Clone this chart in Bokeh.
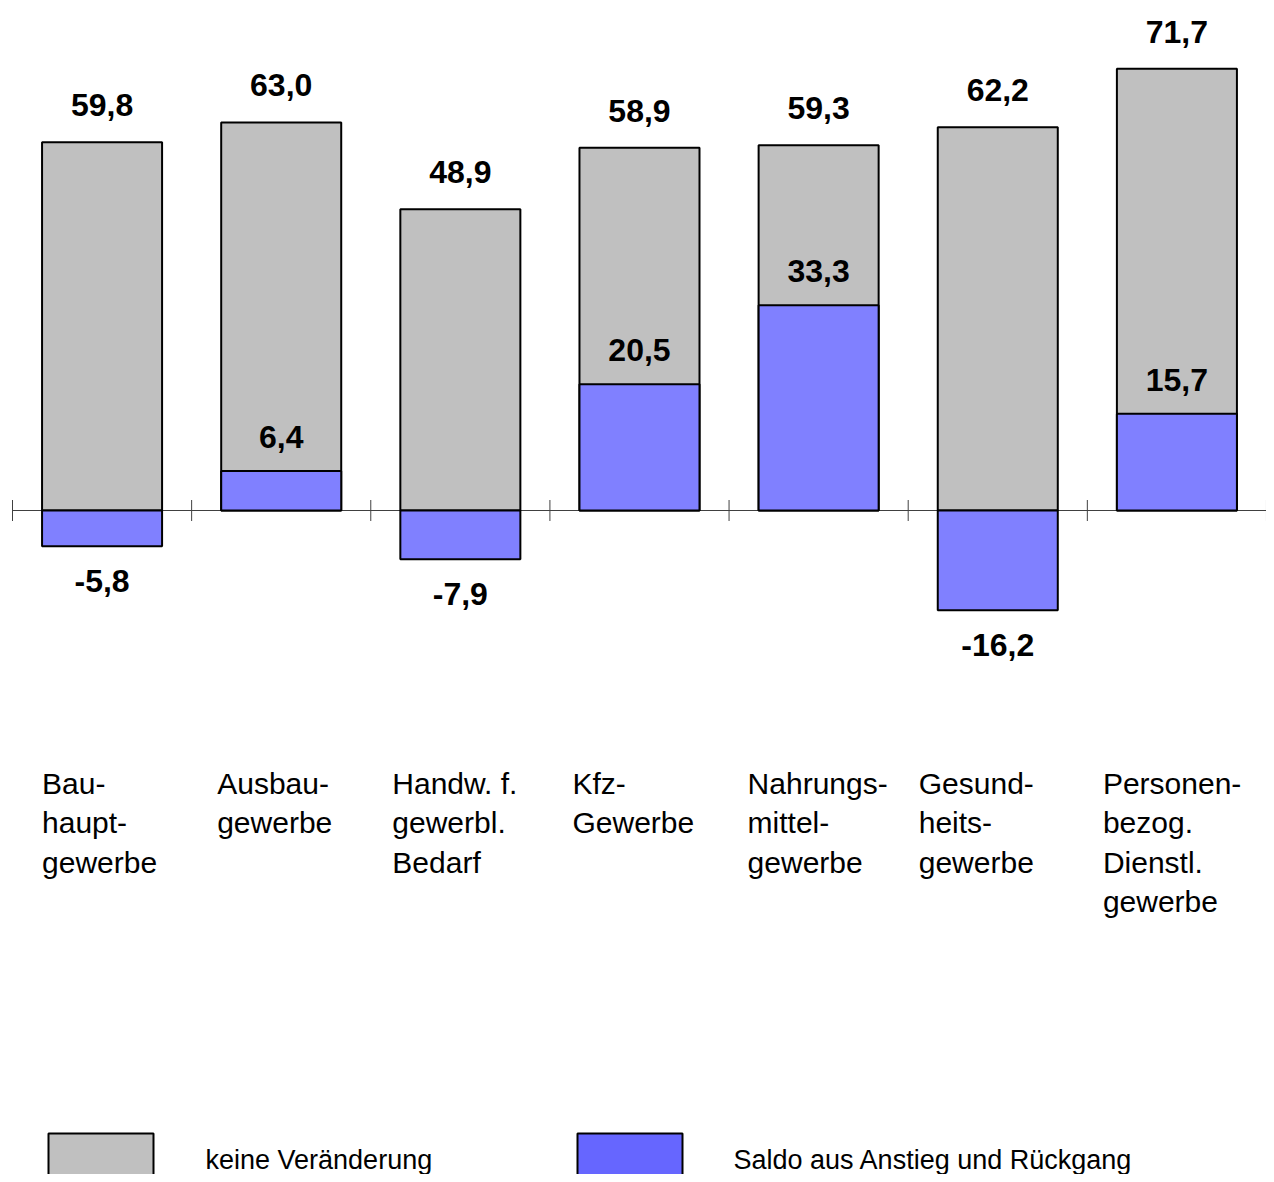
from bokeh.plotting import figure
from bokeh.models import ColumnDataSource, LabelSet, Range1d, Label
from bokeh.core.properties import value
from bokeh.embed import file_html
from bokeh.resources import INLINE
import math

# ---- data ----
categories = ["Bau-\nhaupt-\ngewerbe", "Ausbau-\ngewerbe", "Handw. f.\ngewerbl.\nBedarf",
              "Kfz-\nGewerbe", "Nahrungs-\nmittel-\ngewerbe", "Gesund-\nheits-\ngewerbe",
              "Personen-\nbezog.\nDienstl.\ngewerbe"]
keine_veraenderung = [59.8, 63.0, 48.9, 58.9, 59.3, 62.2, 71.7]
saldo = [-5.8, 6.4, -7.9, 20.5, 33.3, -16.2, 15.7]
legend_labels = ["keine Veränderung", "Saldo aus Anstieg und Rückgang"]

# ---- layout ----
W, H = 1266, 1174
STEP = 179.14          # px per category
X0 = 12                # x of first category boundary
SCALE = 6.16           # px per unit
Y0 = 510               # y of zero line
label_dx = [0, -4, -8, -7, -11, -19, -14]

GRAY = "#C0C0C0"
BLUE = "#8080FF"
BLUE_LEG = "#6666FF"
FONT = "Liberation Sans"

def fmt(v):
    return f"{v:.1f}".replace(".", ",")

p = figure(width=W, height=H, output_backend="svg", toolbar_location=None,
           x_range=Range1d(-X0 / STEP, (W - X0) / STEP),
           y_range=Range1d(-(H - Y0) / SCALE, Y0 / SCALE),
           min_border=0, outline_line_color=None)
p.axis.visible = False
p.grid.visible = False
p.background_fill_color = "white"
p.border_fill_color = "white"

n = len(categories)
xc = [i + 0.5 for i in range(n)]

# zero axis with ticks
p.segment(x0=[0], y0=[0], x1=[n], y1=[0], line_color="#404040", line_width=1)
p.scatter(x=list(range(n + 1)), y=[0] * (n + 1), marker="dash", angle=math.pi / 2,
          size=21, line_color="#404040", line_width=1)

src = ColumnDataSource(dict(
    x=xc, keine=keine_veraenderung, saldo=saldo,
    keine_txt=[fmt(v) for v in keine_veraenderung],
    saldo_txt=[fmt(v) for v in saldo],
    saldo_off=[23 if v >= 0 else -46 for v in saldo],
))

p.vbar(x="x", top="keine", bottom=0, width=0.67, source=src,
       fill_color=GRAY, line_color="black", line_width=2)
p.vbar(x="x", top="saldo", bottom=0, width=0.67, source=src,
       fill_color=BLUE, line_color="black", line_width=2)

p.add_layout(LabelSet(x="x", y="keine", text="keine_txt", source=src, y_offset=26,
                      text_align="center", text_baseline="alphabetic",
                      text_font=value(FONT), text_font_style="bold",
                      text_font_size="32px", text_color="black"))
p.add_layout(LabelSet(x="x", y="saldo", text="saldo_txt", source=src, y_offset="saldo_off",
                      text_align="center", text_baseline="alphabetic",
                      text_font=value(FONT), text_font_style="bold",
                      text_font_size="32px", text_color="black"))

# category labels (multi-line, left aligned)
lx, ly, lt, lxo, lyo = [], [], [], [], []
for i, c in enumerate(categories):
    for k, line in enumerate(c.split("\n")):
        lx.append(i + 0.5 - 0.335)
        ly.append(0)
        lt.append(line)
        lxo.append(label_dx[i])
        lyo.append(-(283 + 39.5 * k))
csrc = ColumnDataSource(dict(x=lx, y=ly, t=lt, xo=lxo, yo=lyo))
p.add_layout(LabelSet(x="x", y="y", text="t", source=csrc, x_offset="xo", y_offset="yo",
                      text_align="left", text_baseline="alphabetic",
                      text_font=value(FONT), text_font_size="30px", text_color="black"))

# legend
def dx(px):
    return (px - X0) / STEP

def dy(py):
    return (Y0 - py) / SCALE

p.quad(left=[dx(48), dx(577)], right=[dx(153), dx(682)],
       top=[dy(1133), dy(1133)], bottom=[dy(1200), dy(1200)],
       fill_color=[GRAY, BLUE_LEG], line_color="black", line_width=2)
for tx, txt in zip([205, 733], legend_labels):
    p.add_layout(Label(x=dx(tx), y=dy(1159), text=txt, text_align="left",
                       text_baseline="alphabetic", text_font=FONT,
                       text_font_size="27px", text_color="black"))

open("out.html", "w").write(file_html(p, INLINE))
